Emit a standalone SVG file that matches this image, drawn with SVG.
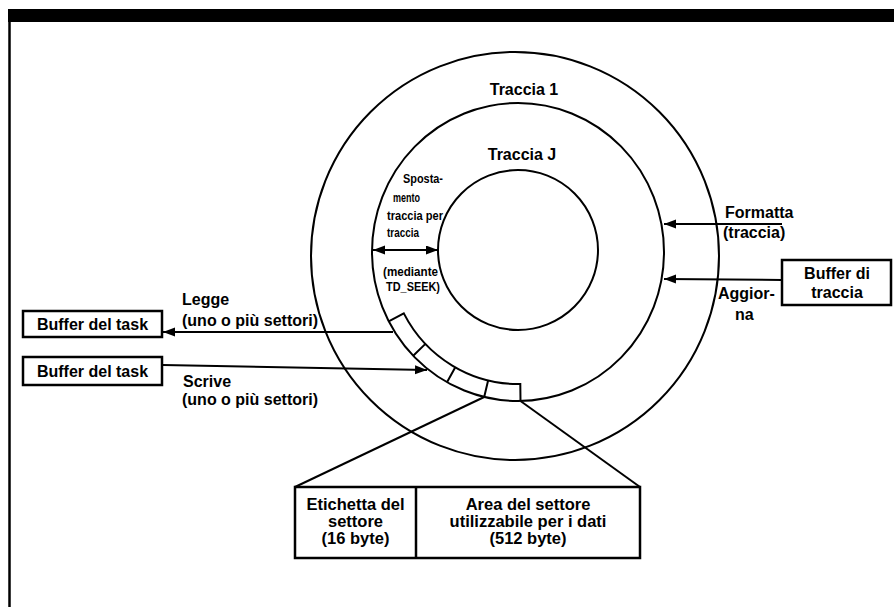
<svg xmlns="http://www.w3.org/2000/svg" width="894" height="607" viewBox="0 0 894 607">
<style>
.ln{fill:none;stroke:#000;stroke-width:2}
.bx{fill:#fff;stroke:#000;stroke-width:2.5}
.t{font-family:"Liberation Sans",Arial,sans-serif;font-weight:bold;font-size:16px;fill:#000}
.c{text-anchor:middle}
.s{font-size:13.5px}
.b{font-size:16.5px}
</style>
<defs>
<marker id="ah" markerUnits="userSpaceOnUse" markerWidth="13" markerHeight="10" refX="12" refY="4.5" orient="auto-start-reverse">
<path d="M0,0 L12,4.5 L0,9 z" fill="#000"/>
</marker>
</defs>
<rect x="8" y="9" width="886" height="13" fill="#000"/>
<line x1="9.5" y1="9" x2="9.5" y2="607" stroke="#000" stroke-width="2.5"/>

<g id="disk">
<circle class="ln" cx="515" cy="256" r="204"/>
<ellipse class="ln" cx="518" cy="252" rx="146" ry="149"/>
<circle class="ln" cx="518" cy="250" r="80"/>
<path class="ln" d="M388.7,321.3 L403.8,313.4 A129 132 0 0 0 520.3,384 L520.5,401 M413.2,355.7 L425.4,343.9 M447,382.2 L455.3,367.3 M484.2,397 L488.1,380.4"/>
<text class="t c" x="524" y="95">Traccia 1</text>
<text class="t c" x="522" y="160">Traccia J</text>
</g>

<g id="spostamento">
<text class="t s" x="403" y="183" textLength="40" lengthAdjust="spacingAndGlyphs">Sposta-</text>
<text class="t s" x="393" y="202" textLength="27" lengthAdjust="spacingAndGlyphs">mento</text>
<text class="t s" x="387" y="220" textLength="56" lengthAdjust="spacingAndGlyphs">traccia per</text>
<text class="t s" x="387" y="237" textLength="32" lengthAdjust="spacingAndGlyphs">traccia</text>
<text class="t s" x="383" y="276" textLength="55" lengthAdjust="spacingAndGlyphs">(mediante</text>
<text class="t s" x="386" y="291" textLength="54" lengthAdjust="spacingAndGlyphs">TD_SEEK)</text>
</g>

<g id="task-buffer-1">
<rect class="bx" x="23" y="311" width="139" height="26"/>
<text class="t c" x="92.5" y="329.5">Buffer del task</text>
</g>
<g id="task-buffer-2">
<rect class="bx" x="23" y="357" width="139" height="28"/>
<text class="t c" x="92.5" y="376.5">Buffer del task</text>
</g>
<g id="track-buffer">
<rect class="bx" x="782" y="260" width="109" height="45"/>
<text class="t c" x="837" y="278.5">Buffer di</text>
<text class="t c" x="837" y="297.5">traccia</text>
</g>
<g id="sector">
<rect class="bx" x="295" y="487" width="345" height="71"/>
<line x1="416" y1="487" x2="416" y2="558" stroke="#000" stroke-width="2.5"/>
<text class="t c b" x="355.5" y="510">Etichetta del</text>
<text class="t c b" x="355.5" y="527">settore</text>
<text class="t c b" x="355.5" y="544">(16 byte)</text>
<text class="t c b" x="528" y="510">Area del settore</text>
<text class="t c b" x="528" y="527">utilizzabile per i dati</text>
<text class="t c b" x="528" y="544">(512 byte)</text>
</g>

<g id="connectors">
<line class="ln" x1="373" y1="250" x2="438" y2="250" marker-start="url(#ah)" marker-end="url(#ah)"/>
<line class="ln" x1="393" y1="332" x2="163" y2="332" marker-end="url(#ah)"/>
<line class="ln" x1="163" y1="365" x2="427" y2="370" marker-end="url(#ah)"/>
<line class="ln" x1="782" y1="224" x2="664" y2="224" marker-end="url(#ah)"/>
<line class="ln" x1="782" y1="280" x2="664" y2="279" marker-end="url(#ah)"/>
<line class="ln" x1="484.2" y1="397" x2="295" y2="487"/>
<line class="ln" x1="520.5" y1="401" x2="640" y2="487"/>
<text class="t" x="182" y="305">Legge</text>
<text class="t" x="182" y="326">(uno o più settori)</text>
<text class="t" x="183" y="387">Scrive</text>
<text class="t" x="182" y="405">(uno o più settori)</text>
<text class="t" x="725" y="218">Formatta</text>
<text class="t" x="723" y="238">(traccia)</text>
<text class="t" x="718" y="299">Aggior-</text>
<text class="t" x="735" y="320">na</text>
</g>
</svg>
